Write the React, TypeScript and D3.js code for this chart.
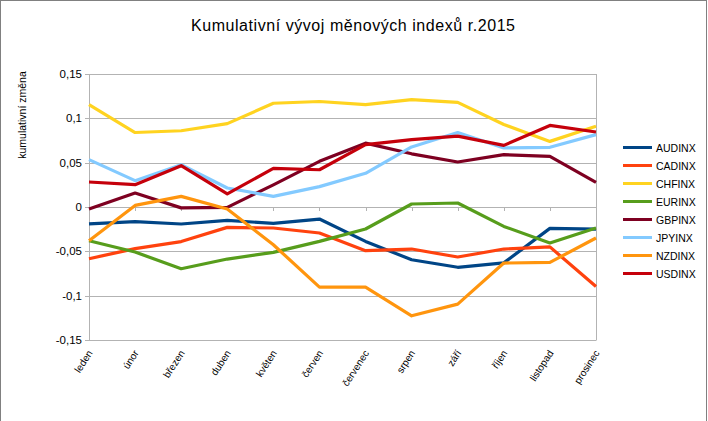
import React from "react";
import * as d3 from "d3";

const months = ["leden", "únor", "březen", "duben", "květen", "červen", "červenec", "srpen", "září", "říjen", "listopad", "prosinec"];
const seriesNames = ["AUDINX", "CADINX", "CHFINX", "EURINX", "GBPINX", "JPYINX", "NZDINX", "USDINX"];
const seriesColors = ["#004586", "#ff420e", "#ffd320", "#579d1c", "#7e0021", "#83caff", "#ff950e", "#c5000b"];

const audinx = [-0.019, -0.0166, -0.0192, -0.015, -0.0185, -0.0136, -0.0388, -0.0595, -0.068, -0.063, -0.0241, -0.0249];
const cadinx = [-0.0583, -0.047, -0.039, -0.023, -0.0237, -0.0293, -0.0493, -0.0474, -0.0564, -0.0474, -0.045, -0.0896];
const chfinx = [0.1155, 0.084, 0.086, 0.094, 0.117, 0.119, 0.1155, 0.121, 0.118, 0.093, 0.074, 0.091];
const eurinx = [-0.038, -0.0508, -0.0696, -0.0587, -0.0512, -0.0388, -0.0248, 0.0034, 0.0045, -0.0219, -0.0406, -0.0237];
const gbpinx = [-0.0023, 0.0158, -0.001, -0.0004, 0.025, 0.0515, 0.072, 0.06, 0.0508, 0.059, 0.057, 0.0278];
const jpyinx = [0.0534, 0.0297, 0.0477, 0.0214, 0.012, 0.023, 0.038, 0.0677, 0.084, 0.0666, 0.0673, 0.0816];
const nzdinx = [-0.038, 0.0018, 0.012, -0.0023, -0.0426, -0.0903, -0.0903, -0.1227, -0.1095, -0.0632, -0.0625, -0.035];
const usdinx = [0.0282, 0.0252, 0.0466, 0.0147, 0.0436, 0.042, 0.0703, 0.076, 0.08, 0.0695, 0.092, 0.0846];

const seriesValues = [audinx, cadinx, chfinx, eurinx, gbpinx, jpyinx, nzdinx, usdinx];
const yTicks = [-0.15, -0.1, -0.05, 0, 0.05, 0.1, 0.15];
const yTickLabels = ["-0,15", "-0,1", "-0,05", "0", "0,05", "0,1", "0,15"];

const title = "Kumulativní vývoj měnových indexů r.2015";
const yTitle = "kumulativní změna";

export default function App() {
  const x = d3.scalePoint<string>().domain(months).range([89, 596]);
  const y = d3.scaleLinear().domain([-0.15, 0.15]).range([340, 74]);
  const line = d3
    .line<number>()
    .x((_, i) => x(months[i]) as number)
    .y((d) => y(d));
  const grid = "#b3b3b3";
  const font = "'Liberation Sans', Arial, sans-serif";

  return (
    <svg width={708} height={421} style={{ position: "absolute", left: 0, top: 0 }} fontFamily={font}>
      <rect x={0} y={0} width={708} height={421} fill="#fff" />
      <rect x={0.5} y={0.5} width={706} height={430} fill="none" stroke="#808080" strokeWidth={1} />
      <text x={353} y={31} textAnchor="middle" fontSize={16} textLength={324} lengthAdjust="spacing">
        {title}
      </text>
      <text transform="translate(26,115) rotate(-90)" textAnchor="middle" fontSize={10.5}>
        {yTitle}
      </text>
      {yTicks.map((t, i) => (
        <g key={t}>
          <line x1={85} x2={596} y1={Math.round(y(t)) + 0.5} y2={Math.round(y(t)) + 0.5} stroke={grid} strokeWidth={1} />
          <text x={82} y={y(t) + 4} textAnchor="end" fontSize={11.5}>
            {yTickLabels[i]}
          </text>
        </g>
      ))}
      <line x1={89.5} x2={89.5} y1={74} y2={340.5} stroke={grid} />
      <line x1={596.5} x2={596.5} y1={74} y2={340.5} stroke={grid} />
      {months.map((m) => (
        <line key={"t" + m} x1={Math.round(x(m) as number) + 0.5} x2={Math.round(x(m) as number) + 0.5} y1={y(0)} y2={y(0) + 4} stroke={grid} />
      ))}
      {months.map((m) => {
        const px = (x(m) as number) + 4;
        return (
          <text key={m} transform={`translate(${px},353) rotate(-57)`} textAnchor="end" fontSize={10}>
            {m}
          </text>
        );
      })}
      {seriesValues.map((vals, k) => (
        <path key={seriesNames[k]} d={line(vals) || ""} fill="none" stroke={seriesColors[k]} strokeWidth={3.2} strokeLinejoin="round" />
      ))}
      {seriesNames.map((n, k) => {
        const ly = 147.5 + 18 * k;
        return (
          <g key={"l" + n}>
            <line x1={623} x2={652} y1={ly} y2={ly} stroke={seriesColors[k]} strokeWidth={3} />
            <text x={656} y={ly + 4} fontSize={10.5}>
              {n}
            </text>
          </g>
        );
      })}
    </svg>
  );
}
